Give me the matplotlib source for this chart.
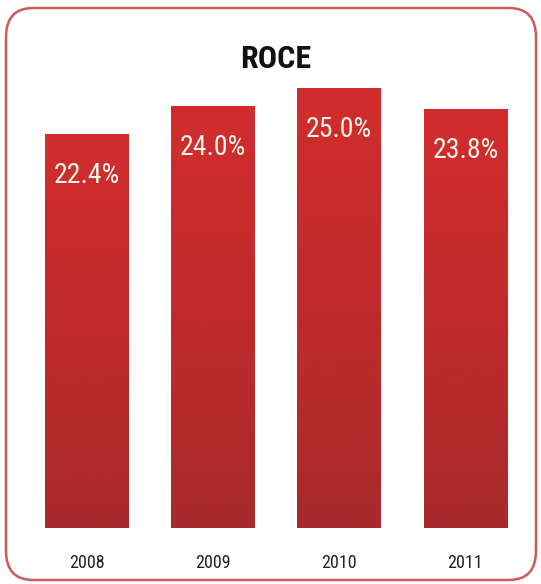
import numpy as np
import matplotlib
matplotlib.use("Agg")
import matplotlib.pyplot as plt
from matplotlib import font_manager
from matplotlib.patches import FancyBboxPatch
from matplotlib.colors import LinearSegmentedColormap

years = ["2008", "2009", "2010", "2011"]
roce = [22.4, 24.0, 25.0, 23.8]
title = "ROCE"

# narrow face if we have one
names = {f.name for f in font_manager.fontManager.ttflist}
narrow = "DejaVu Sans"
for cand in ["Liberation Sans Narrow", "Roboto Condensed", "DejaVu Sans Condensed"]:
    if cand in names:
        narrow = cand
        break

fig = plt.figure(figsize=(5.41, 5.84), dpi=100)
W, H = 541, 584

# rounded outer frame
frame = FancyBboxPatch((6 / W, 1 - 580 / H), 530 / W, 572 / H,
                       boxstyle="round,pad=0,rounding_size=0.05",
                       transform=fig.transFigure, fill=False,
                       edgecolor="#cc5a58", linewidth=1.8)
fig.patches.append(frame)

ax = fig.add_axes([23.5 / W, 1 - 528 / H, 505 / W, 520 / H])
ax.set_xlim(-0.5, 3.5)
ax.set_ylim(0, 520 / 17.6)
ax.axis("off")

x = np.arange(len(years))
bars = ax.bar(x, roce, width=0.66, color="none", edgecolor="none")

# vertical red gradient inside each bar
cmap = LinearSegmentedColormap.from_list("red", ["#a82a2c", "#c02a2c", "#d22d2e"])
grad = np.linspace(0, 1, 256).reshape(-1, 1)
for b in bars:
    x0, w, h = b.get_x(), b.get_width(), b.get_height()
    im = ax.imshow(grad, cmap=cmap, origin="lower", aspect="auto",
                   extent=(x0, x0 + w, 0, h), zorder=2)
    im.set_clip_path(b)

for xi, v in zip(x, roce):
    ax.annotate(f"{v:.1f}%", (xi, v), xytext=(0, -30), textcoords="offset points",
                ha="center", va="center", color="#fbf6ea", fontsize=20,
                family=narrow, zorder=3)

for xi, yr in zip(x, years):
    ax.annotate(yr, (xi, 0), xytext=(0, -25), textcoords="offset points",
                ha="center", va="center", color="#222222", fontsize=13,
                family=narrow, annotation_clip=False)

fig.text(276 / W, 1 - 59 / H, title, ha="center", va="center",
         fontsize=23, fontweight="bold", family=narrow, color="#111111")

fig.savefig("out.png", dpi=100)
